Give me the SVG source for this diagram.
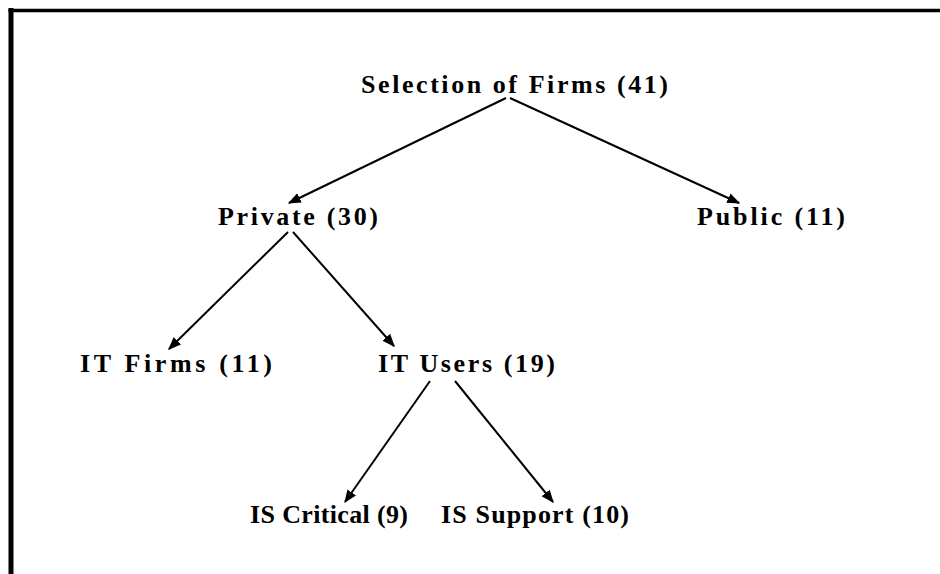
<svg xmlns="http://www.w3.org/2000/svg" width="940" height="574" viewBox="0 0 940 574">
  <style>
    .frame { stroke: #000; fill: none; }
    .label { font-family: "Liberation Serif", "Times New Roman", serif; font-weight: bold; font-size: 26px; fill: #000; }
    .edge { stroke: #000; stroke-width: 2; fill: none; marker-end: url(#arrow); }
  </style>
  <defs>
    <marker id="arrow" viewBox="0 0 10 10" refX="9" refY="5" markerWidth="6.5" markerHeight="6.5" markerUnits="strokeWidth" orient="auto">
      <path d="M0,1 L10,5 L0,9 Z" fill="#000"/>
    </marker>
  </defs>
  <rect width="940" height="574" fill="#fff"/>

  <!-- outer frame (open on the right and bottom) -->
  <g id="frame">
    <line class="frame" x1="11" y1="8" x2="11" y2="574" stroke-width="5"/>
    <line class="frame" x1="8.5" y1="10.5" x2="940" y2="10.5" stroke-width="3.5"/>
  </g>

  <!-- connectors -->
  <g id="connectors">
    <line class="edge" x1="506" y1="98" x2="289" y2="203"/>
    <line class="edge" x1="510" y1="98" x2="739" y2="203"/>
    <line class="edge" x1="288" y1="232" x2="169" y2="349"/>
    <line class="edge" x1="293" y1="232" x2="394" y2="346"/>
    <line class="edge" x1="430" y1="381" x2="345" y2="502"/>
    <line class="edge" x1="455" y1="381" x2="553" y2="502"/>
  </g>

  <!-- nodes -->
  <g id="node-selection">
    <text class="label" x="361" y="93" textLength="307" lengthAdjust="spacing">Selection of Firms (41)</text>
  </g>
  <g id="node-private">
    <text class="label" x="218" y="225" textLength="160" lengthAdjust="spacing">Private (30)</text>
  </g>
  <g id="node-public">
    <text class="label" x="697" y="225" textLength="148" lengthAdjust="spacing">Public (11)</text>
  </g>
  <g id="node-it-firms">
    <text class="label" x="80" y="372" textLength="192" lengthAdjust="spacing">IT Firms (11)</text>
  </g>
  <g id="node-it-users">
    <text class="label" x="378" y="372" textLength="177" lengthAdjust="spacing">IT Users (19)</text>
  </g>
  <g id="node-is-critical">
    <text class="label" x="250" y="523" textLength="158" lengthAdjust="spacing">IS Critical (9)</text>
  </g>
  <g id="node-is-support">
    <text class="label" x="441" y="523" textLength="188" lengthAdjust="spacing">IS Support (10)</text>
  </g>
</svg>
